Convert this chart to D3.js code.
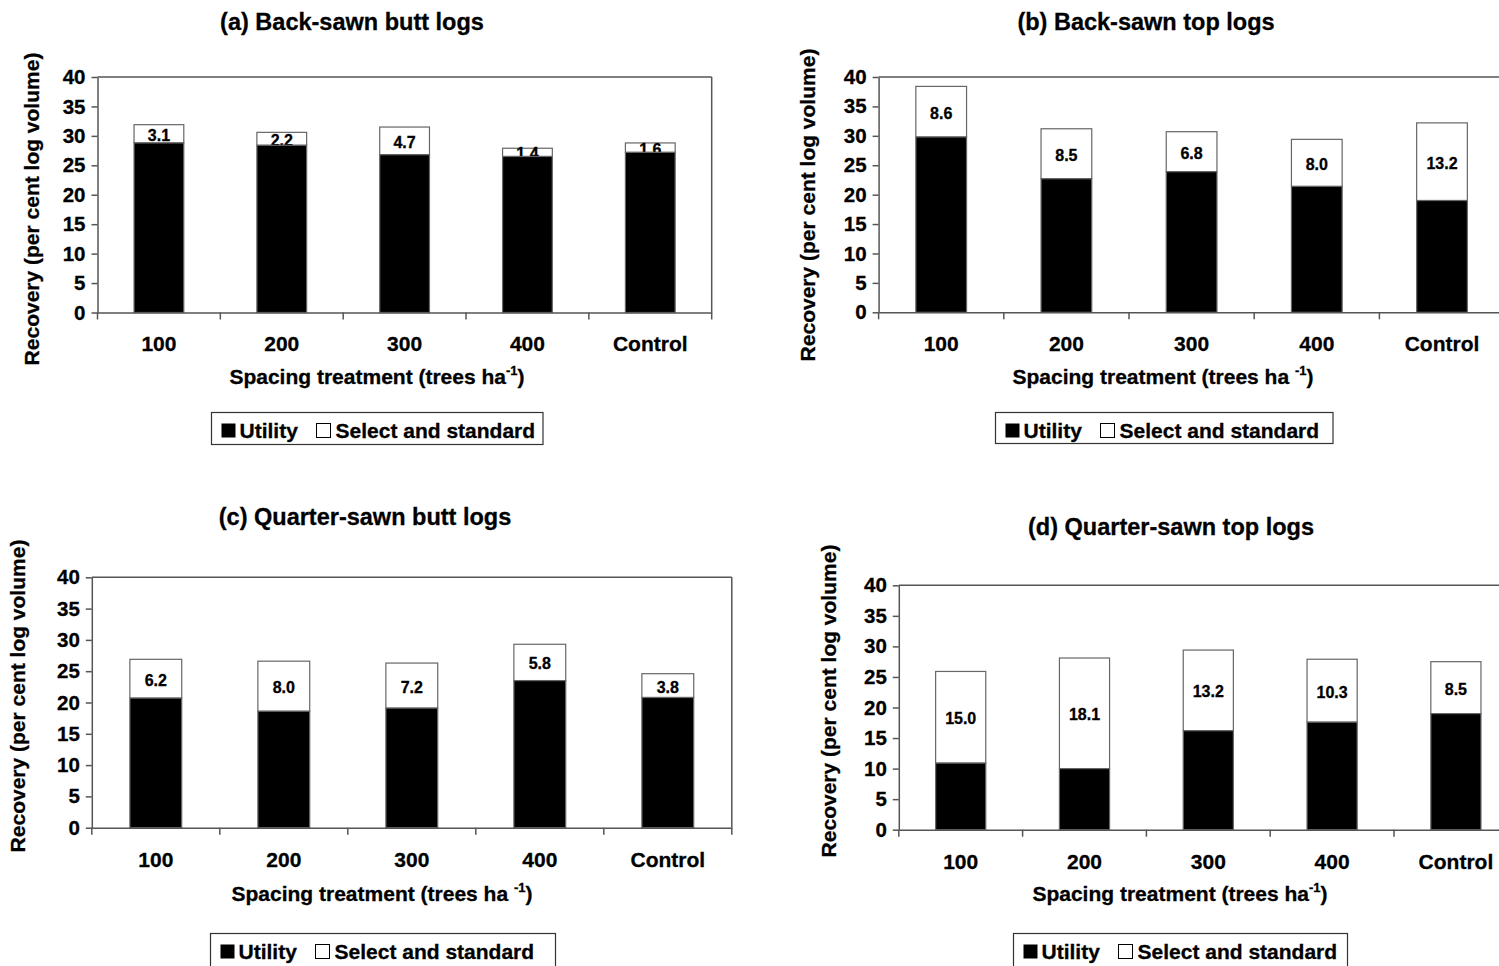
<!DOCTYPE html>
<html>
<head>
<meta charset="utf-8">
<script src="https://cdn.jsdelivr.net/npm/d3@7"></script>
<style>
  html, body { margin: 0; padding: 0; background: #fff; }
  svg { display: block; font-family: "Liberation Sans", Arial, sans-serif; font-weight: bold; }
  svg text { stroke: #000; stroke-width: 0.3px; }
</style>
</head>
<body>
<svg id="chart" width="1499" height="966"></svg>
<script>
// categories shared by all four panels
const categories = ["100", "200", "300", "400", "Control"];
const yTicks = [0, 5, 10, 15, 20, 25, 30, 35, 40];

// (a) Back-sawn butt logs
const utilityA = [28.8, 28.4, 26.8, 26.5, 27.2];
const selectA = [3.1, 2.2, 4.7, 1.4, 1.6];
// (b) Back-sawn top logs
const utilityB = [29.8, 22.7, 23.9, 21.4, 19.0];
const selectB = [8.6, 8.5, 6.8, 8.0, 13.2];
// (c) Quarter-sawn butt logs
const utilityC = [20.7, 18.6, 19.1, 23.5, 20.8];
const selectC = [6.2, 8.0, 7.2, 5.8, 3.8];
// (d) Quarter-sawn top logs
const utilityD = [10.9, 10.0, 16.2, 17.6, 19.0];
const selectD = [15.0, 18.1, 13.2, 10.3, 8.5];

const titles = ["(a) Back-sawn butt logs", "(b) Back-sawn top logs",
  "(c) Quarter-sawn butt logs", "(d) Quarter-sawn top logs"];
const yTitle = "Recovery (per cent log volume)";
const legendLabels = ["Utility", "Select and standard"];

const panels = [
  {title: titles[0], utility: utilityA, select: selectA,
   left: 97.5, right: 711.7, top: 77, bottom: 312.5,
   titleX: 352, titleY: 30, yTitleX: 39, yTitleY: 209, xTitleX: 377, xTitleY: 384, supGap: "",
   legend: {x: 211.5, y: 412.5, w: 331.5, h: 32}},
  {title: titles[1], utility: utilityB, select: selectB,
   left: 878.6, right: 1504.6, top: 77, bottom: 312.3,
   titleX: 1146, titleY: 30, yTitleX: 815, yTitleY: 205, xTitleX: 1163, xTitleY: 384, supGap: " ",
   legend: {x: 995.5, y: 412.5, w: 337.5, h: 31}},
  {title: titles[2], utility: utilityC, select: selectC,
   left: 91.8, right: 731.8, top: 577.3, bottom: 827.7,
   titleX: 365, titleY: 525, yTitleX: 25, yTitleY: 696, xTitleX: 382, xTitleY: 901, supGap: "  ",
   legend: {x: 210.5, y: 933.5, w: 345, h: 40}},
  {title: titles[3], utility: utilityD, select: selectD,
   left: 898.8, right: 1517.8, top: 585.3, bottom: 829.7,
   titleX: 1171, titleY: 535, yTitleX: 836, yTitleY: 701, xTitleX: 1180, xTitleY: 901, supGap: "",
   legend: {x: 1013.5, y: 933.5, w: 334, h: 40}}
];

const svg = d3.select("#chart");

function drawPanel(p) {
  const g = svg.append("g");

  const x = d3.scaleBand()
    .domain(categories)
    .range([p.left, p.right])
    .paddingInner(0.595)
    .paddingOuter(0.2975);
  const y = d3.scaleLinear()
    .domain([0, 40])
    .range([p.bottom, p.top]);

  // frame top + right
  g.append("line")
    .attr("x1", p.left).attr("x2", p.right)
    .attr("y1", y(40)).attr("y2", y(40))
    .attr("stroke", "#555").attr("stroke-width", 1.5);
  g.append("line")
    .attr("x1", p.right).attr("x2", p.right)
    .attr("y1", y(40)).attr("y2", y(0))
    .attr("stroke", "#555").attr("stroke-width", 1.5);

  const stacks = categories.map((c, i) => ({
    cat: c, utility: p.utility[i], select: p.select[i]
  }));

  // white "select and standard" segments
  g.selectAll("rect.sel")
    .data(stacks)
    .join("rect")
    .attr("class", "sel")
    .attr("x", d => x(d.cat))
    .attr("width", x.bandwidth())
    .attr("y", d => y(d.utility + d.select))
    .attr("height", d => y(d.utility) - y(d.utility + d.select))
    .attr("fill", "#fff")
    .attr("stroke", "#666")
    .attr("stroke-width", 1.2);

  // value labels (drawn below the black segments, like the original)
  g.selectAll("text.val")
    .data(stacks)
    .join("text")
    .attr("class", "val")
    .attr("x", d => x(d.cat) + x.bandwidth() / 2)
    .attr("y", d => y(d.utility + d.select / 2) + 7)
    .attr("text-anchor", "middle")
    .attr("font-size", 16)
    .text(d => d.select.toFixed(1));

  // black utility segments
  g.selectAll("rect.util")
    .data(stacks)
    .join("rect")
    .attr("class", "util")
    .attr("x", d => x(d.cat))
    .attr("width", x.bandwidth())
    .attr("y", d => y(d.utility))
    .attr("height", d => y(0) - y(d.utility))
    .attr("fill", "#000")
    .attr("stroke", "#666")
    .attr("stroke-width", 1.2);

  // y axis
  const yAxis = g.append("g")
    .attr("transform", `translate(${p.left},0)`)
    .call(d3.axisLeft(y).tickValues(yTicks).tickSize(6).tickPadding(6).tickSizeOuter(0));
  yAxis.select(".domain").attr("stroke", "#555").attr("stroke-width", 1.5);
  yAxis.selectAll(".tick line").attr("stroke", "#555").attr("stroke-width", 1.5);
  yAxis.selectAll("text")
    .attr("font-size", 20.5).attr("font-family", null).attr("fill", "#000");

  // x axis: labels centred in bands, ticks at band boundaries
  const xAxis = g.append("g")
    .attr("transform", `translate(0,${p.bottom})`)
    .call(d3.axisBottom(x).tickSize(0).tickPadding(24).tickSizeOuter(0));
  xAxis.select(".domain").attr("stroke", "#555").attr("stroke-width", 1.5);
  xAxis.selectAll("text")
    .attr("font-size", 21).attr("font-family", null).attr("fill", "#000");
  const bounds = d3.range(categories.length + 1).map(i => p.left + i * x.step());
  xAxis.selectAll("line.bound")
    .data(bounds)
    .join("line")
    .attr("class", "bound")
    .attr("x1", d => d).attr("x2", d => d)
    .attr("y1", 0).attr("y2", 7)
    .attr("stroke", "#555").attr("stroke-width", 1.5);

  // panel title
  g.append("text")
    .attr("x", p.titleX).attr("y", p.titleY)
    .attr("text-anchor", "middle")
    .attr("font-size", 23.5)
    .text(p.title);

  // y title
  g.append("text")
    .attr("transform", `translate(${p.yTitleX},${p.yTitleY}) rotate(-90)`)
    .attr("text-anchor", "middle")
    .attr("font-size", 21)
    .text(yTitle);

  // x title with superscript
  const xt = g.append("text")
    .attr("x", p.xTitleX).attr("y", p.xTitleY)
    .attr("text-anchor", "middle")
    .attr("font-size", 21);
  xt.append("tspan").text("Spacing treatment (trees ha" + p.supGap);
  xt.append("tspan").attr("font-size", 13).attr("dy", -9).text("-1");
  xt.append("tspan").attr("dy", 9).text(")");

  // legend
  const L = p.legend;
  const lg = g.append("g").attr("transform", `translate(${L.x},${L.y})`);
  lg.append("rect")
    .attr("width", L.w).attr("height", L.h)
    .attr("fill", "#fff").attr("stroke", "#333").attr("stroke-width", 1.2);
  const cy = 18;
  lg.append("rect")
    .attr("x", 10).attr("y", cy - 7).attr("width", 14).attr("height", 14)
    .attr("fill", "#000");
  lg.append("text")
    .attr("x", 28).attr("y", cy + 7.5)
    .attr("font-size", 21)
    .text(legendLabels[0]);
  lg.append("rect")
    .attr("x", 105).attr("y", cy - 7).attr("width", 14).attr("height", 14)
    .attr("fill", "#fff").attr("stroke", "#000").attr("stroke-width", 1);
  lg.append("text")
    .attr("x", 124).attr("y", cy + 7.5)
    .attr("font-size", 21)
    .text(legendLabels[1]);
}

panels.forEach(drawPanel);
</script>
</body>
</html>
